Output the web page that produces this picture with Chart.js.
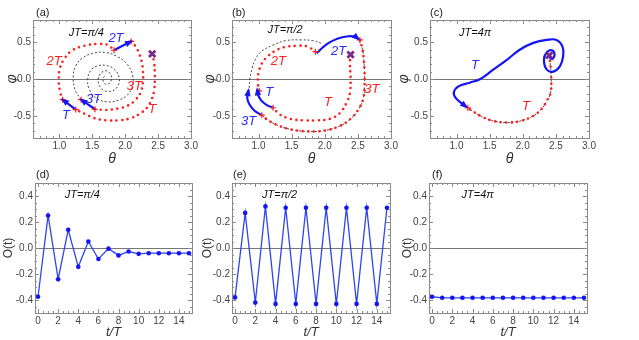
<!DOCTYPE html>
<html>
<head>
<meta charset="utf-8">
<script src="https://cdn.jsdelivr.net/npm/chart.js@4.4.0/dist/chart.umd.min.js"></script>
<style>
  body { margin: 0; background: #fff; }
  #fig { position: relative; width: 639px; height: 340px; overflow: hidden; font-family: "Liberation Sans", Arial, sans-serif; }
  #fig canvas { position: absolute; }
  .tag { position: absolute; font-size: 11px; line-height: 13px; color: #222; }
</style>
</head>
<body>
<div id="fig">
  <canvas id="pa" width="200" height="170" style="left:0;top:0"></canvas>
  <canvas id="pb" width="200" height="170" style="left:200px;top:0"></canvas>
  <canvas id="pc" width="247" height="170" style="left:392px;top:0"></canvas>
  <canvas id="pd" width="200" height="175" style="left:0;top:165px"></canvas>
  <canvas id="pe" width="200" height="175" style="left:200px;top:165px"></canvas>
  <canvas id="pf" width="239" height="175" style="left:400px;top:165px"></canvas>
  <div class="tag" style="left:36px;top:6px">(a)</div>
  <div class="tag" style="left:232px;top:6px">(b)</div>
  <div class="tag" style="left:430px;top:6px">(c)</div>
  <div class="tag" style="left:36px;top:168px">(d)</div>
  <div class="tag" style="left:233px;top:168px">(e)</div>
  <div class="tag" style="left:432px;top:168px">(f)</div>
</div>
<script>
// axis ticks
const thetaTicks = [1.0, 1.5, 2.0, 2.5, 3.0];
const phiTicks = [-0.5, 0.0, 0.5];
const tTicks = [0, 2, 4, 6, 8, 10, 12, 14];
const oTicks = [-0.4, -0.2, 0.0, 0.2, 0.4];

// stroboscopic observable O(t) at t = 0..15 T
const steps = [0, 1, 2, 3, 4, 5, 6, 7, 8, 9, 10, 11, 12, 13, 14, 15];
const oQuarter = [-0.375, 0.25, -0.24, 0.14, -0.145, 0.05, -0.085, -0.005, -0.057, -0.027, -0.045, -0.04, -0.04, -0.04, -0.04, -0.04];
const oHalf = [-0.38, 0.27, -0.42, 0.32, -0.43, 0.31, -0.43, 0.31, -0.43, 0.31, -0.43, 0.31, -0.43, 0.31, -0.43, 0.31];
const oFourPi = [-0.375, -0.383, -0.383, -0.383, -0.383, -0.383, -0.383, -0.383, -0.383, -0.383, -0.383, -0.383, -0.383, -0.383, -0.383, -0.383];

// (a) JT = pi/4, phase-space (theta, phi)
const aStart = [2.41, 0.34];
const aRed1 = [[2.41, 0.34], [2.44, 0.22], [2.45, 0.04], [2.44, -0.15], [2.40, -0.28], [2.34, -0.38], [2.24, -0.46], [2.09, -0.53], [1.91, -0.56], [1.71, -0.56], [1.53, -0.53], [1.38, -0.47], [1.25, -0.415]];
const aBlue1 = [[1.25, -0.415], [1.05, -0.28]];
const aRed2 = [[1.05, -0.28], [1.01, -0.17], [0.99, -0.01], [1.01, 0.15], [1.08, 0.28], [1.20, 0.39], [1.38, 0.45], [1.58, 0.475], [1.74, 0.46], [1.83, 0.39]];
const aBlue2 = [[1.83, 0.39], [2.09, 0.51]];
const aRed3 = [[2.09, 0.51], [2.16, 0.44], [2.21, 0.35], [2.25, 0.24], [2.27, 0.10], [2.27, -0.03], [2.24, -0.17], [2.16, -0.28], [2.04, -0.36], [1.89, -0.40], [1.71, -0.42], [1.54, -0.41]];
const aBlue3 = [[1.54, -0.41], [1.33, -0.28]];
const aBlack = [[1.33, -0.28], [1.24, -0.15], [1.21, 0.02], [1.25, 0.18], [1.36, 0.29], [1.52, 0.35], [1.70, 0.36], [1.87, 0.31], [2.02, 0.21], [2.11, 0.06], [2.11, -0.10], [2.03, -0.22], [1.89, -0.29], [1.72, -0.31], [1.56, -0.26], [1.46, -0.15], [1.43, -0.01], [1.48, 0.12], [1.59, 0.18], [1.73, 0.18], [1.85, 0.12], [1.91, 0.0], [1.87, -0.12], [1.76, -0.17], [1.64, -0.13], [1.59, -0.02], [1.63, 0.08], [1.72, 0.11], [1.79, 0.04], [1.77, -0.05], [1.70, -0.07], [1.66, 0.0], [1.70, 0.05]];
const aKicks = [[1.25, -0.415], [1.05, -0.28], [1.83, 0.39], [2.09, 0.51], [1.54, -0.41], [1.33, -0.28]];
const aNotes = [['JT=π/4', 1.41, 0.63, 'k'], ['2T', 0.92, 0.24, 'r'], ['2T', 1.86, 0.55, 'b'], ['3T', 2.14, -0.10, 'r'], ['3T', 1.52, -0.27, 'b'], ['T', 1.10, -0.50, 'b'], ['T', 2.41, -0.41, 'r']];

// (b) JT = pi/2
const bStart = [2.39, 0.33];
const bRed1 = [[2.39, 0.33], [2.38, 0.21], [2.39, 0.01], [2.38, -0.19], [2.33, -0.32], [2.23, -0.46], [2.08, -0.54], [1.88, -0.56], [1.68, -0.56], [1.48, -0.54], [1.32, -0.48], [1.22, -0.39]];
const bBlue1 = [[1.22, -0.39], [1.12, -0.35], [1.04, -0.29], [0.99, -0.21], [0.98, -0.14]];
const bRed2 = [[1.01, -0.16], [0.99, -0.05], [1.00, 0.08], [1.05, 0.21], [1.13, 0.30], [1.23, 0.37], [1.38, 0.43], [1.58, 0.45], [1.74, 0.44], [1.86, 0.37]];
const bBlue2 = [[1.88, 0.35], [1.96, 0.42], [2.06, 0.49], [2.20, 0.55], [2.36, 0.58], [2.47, 0.57], [2.51, 0.54]];
const bRed3 = [[2.53, 0.53], [2.57, 0.40], [2.59, 0.25], [2.60, 0.10], [2.60, -0.10], [2.58, -0.27], [2.51, -0.41], [2.39, -0.54], [2.22, -0.64], [1.99, -0.70], [1.73, -0.71], [1.47, -0.68], [1.27, -0.62], [1.13, -0.55], [1.05, -0.49]];
const bBlue3 = [[1.05, -0.49], [0.94, -0.43], [0.86, -0.34], [0.83, -0.25], [0.85, -0.15]];
const bBlack = [[0.86, -0.12], [0.87, 0.0], [0.90, 0.13], [0.95, 0.26], [1.04, 0.37], [1.22, 0.46], [1.41, 0.52], [1.64, 0.53], [1.82, 0.52], [1.96, 0.48]];
const bKicks = [[1.22, -0.39], [1.01, -0.16], [1.86, 0.37], [2.53, 0.53], [1.05, -0.49]];
const bNotes = [['JT=π/2', 1.40, 0.67, 'k'], ['2T', 1.30, 0.24, 'r'], ['2T', 2.21, 0.37, 'b'], ['T', 1.16, -0.18, 'b'], ['3T', 0.85, -0.57, 'b'], ['T', 2.05, -0.32, 'r'], ['3T', 2.71, -0.145, 'r']];

// (c) JT = 4 pi
const cStart = [2.40, 0.32];
const cRed1 = [[2.40, 0.32], [2.42, 0.17], [2.43, 0.0], [2.42, -0.19], [2.36, -0.30], [2.29, -0.40], [2.16, -0.50], [1.96, -0.57], [1.76, -0.59], [1.56, -0.57], [1.38, -0.51], [1.25, -0.44], [1.17, -0.39]];
const cBlue = [[2.39, 0.31], [2.44, 0.27], [2.48, 0.33], [2.44, 0.39], [2.36, 0.36], [2.32, 0.26], [2.36, 0.13], [2.46, 0.10], [2.56, 0.17], [2.61, 0.31], [2.60, 0.44], [2.51, 0.53], [2.36, 0.53], [2.16, 0.49], [1.96, 0.40], [1.76, 0.26], [1.56, 0.13], [1.36, 0.0], [1.20, -0.05], [1.03, -0.10], [0.96, -0.18], [0.99, -0.26], [1.08, -0.33], [1.15, -0.38]];
const cKicks = [[1.17, -0.39]];
const cNotes = [['JT=4π', 1.28, 0.62, 'k'], ['T', 1.28, 0.19, 'b'], ['T', 2.05, -0.37, 'r']];

const dNotes = [['JT=π/4', 4.4, 0.41, 'k']];
const eNotes = [['JT=π/2', 4.4, 0.41, 'k']];
const fNotes = [['JT=4π', 4.5, 0.41, 'k']];

const FONT = '"Liberation Sans", Arial, sans-serif';
const RED = '#ff1e1e';
const BLUE = '#1414f5';
const PURPLE = '#7a2a8a';
const NOTE_COLORS = { r: '#ff2020', b: '#2a2aff', k: '#111' };

const pts = arr => arr.map(p => ({ x: p[0], y: p[1] }));
const redDots = arr => ({ data: pts(arr), showLine: true, borderColor: RED, borderWidth: 2.6, borderDash: [0, 5.6], borderCapStyle: 'round', pointRadius: 0, tension: 0.4 });
const blackDash = arr => ({ data: pts(arr), showLine: true, borderColor: '#333', borderWidth: 0.9, borderDash: [2, 2], pointRadius: 0, tension: 0.4 });
const blueArrow = arr => ({ data: pts(arr), showLine: true, borderColor: BLUE, borderWidth: 2.2, pointRadius: 0, tension: 0.4, arrow: true });
const crosses = arr => ({ data: pts(arr), showLine: false, pointStyle: 'cross', pointRadius: 3, borderColor: RED, borderWidth: 1.2 });
const xMark = p => ({ data: pts([p]), showLine: false, pointStyle: 'crossRot', pointRadius: 4.5, borderColor: PURPLE, borderWidth: 2.8 });

// frame, inward ticks, zero line, arrowheads and text notes
const framePlugin = {
  id: 'frame',
  beforeDatasetsDraw(chart) {
    const { ctx, chartArea: a, scales: { y } } = chart;
    const y0 = Math.round(y.getPixelForValue(0)) + 0.5;
    ctx.save();
    ctx.strokeStyle = '#777';
    ctx.lineWidth = 1;
    ctx.beginPath(); ctx.moveTo(a.left, y0); ctx.lineTo(a.right, y0); ctx.stroke();
    ctx.restore();
  },
  afterDatasetsDraw(chart) {
    const ctx = chart.ctx;
    chart.data.datasets.forEach((ds, i) => {
      if (!ds.arrow) return;
      const el = chart.getDatasetMeta(i).data;
      const p = el[el.length - 1], q = el[el.length - 2];
      const ang = Math.atan2(p.y - q.y, p.x - q.x);
      ctx.save();
      ctx.translate(p.x, p.y); ctx.rotate(ang);
      ctx.fillStyle = ds.borderColor;
      ctx.beginPath(); ctx.moveTo(2, 0); ctx.lineTo(-6, -3.2); ctx.lineTo(-6, 3.2); ctx.closePath(); ctx.fill();
      ctx.restore();
    });
  },
  afterDraw(chart, args, o) {
    const { ctx, chartArea: a, scales: { x, y } } = chart;
    ctx.save();
    ctx.strokeStyle = '#8a8a8a';
    ctx.lineWidth = 1;
    ctx.strokeRect(Math.round(a.left) + 0.5, Math.round(a.top) + 0.5, Math.round(a.right - a.left), Math.round(a.bottom - a.top));
    const majX = x.ticks.map(t => t.value), majY = y.ticks.map(t => t.value);
    ctx.beginPath();
    for (let v = Math.ceil(x.min / o.xMinor) * o.xMinor; v <= x.max + 1e-9; v += o.xMinor) {
      const big = majX.some(m => Math.abs(m - v) < 1e-6);
      const px = Math.round(x.getPixelForValue(v)) + 0.5, len = big ? 4 : 2;
      ctx.moveTo(px, a.bottom); ctx.lineTo(px, a.bottom - len);
      ctx.moveTo(px, a.top); ctx.lineTo(px, a.top + len);
    }
    for (let v = Math.ceil(y.min / o.yMinor) * o.yMinor; v <= y.max + 1e-9; v += o.yMinor) {
      const big = majY.some(m => Math.abs(m - v) < 1e-6);
      const py = Math.round(y.getPixelForValue(v)) + 0.5, len = big ? 4 : 2;
      ctx.moveTo(a.left, py); ctx.lineTo(a.left + len, py);
      ctx.moveTo(a.right, py); ctx.lineTo(a.right - len, py);
    }
    ctx.stroke();
    ctx.textAlign = 'center';
    ctx.textBaseline = 'middle';
    (o.notes || []).forEach(([text, nx, ny, c]) => {
      ctx.font = (c === 'k' ? 'italic 11px ' : 'italic 13px ') + FONT;
      ctx.fillStyle = NOTE_COLORS[c];
      ctx.fillText(text, x.getPixelForValue(nx), y.getPixelForValue(ny));
    });
    ctx.restore();
  }
};

function axis(min, max, ticks, fmt, extra) {
  return Object.assign({
    type: 'linear', min, max,
    afterBuildTicks: s => { s.ticks = ticks.map(v => ({ value: v })); },
    grid: { display: false, drawTicks: false },
    border: { display: false },
    ticks: { font: { size: 10, family: FONT }, color: '#444', padding: 2, maxRotation: 0, autoSkip: false, callback: fmt }
  }, extra);
}

function phaseChart(id, yWidth, padRight, titlePad, datasets, notes) {
  return new Chart(document.getElementById(id), {
    type: 'scatter',
    data: { datasets },
    options: {
      responsive: false, animation: false, events: [],
      layout: { padding: { left: 0, top: 20, right: padRight, bottom: 0 } },
      plugins: { legend: { display: false }, tooltip: { enabled: false }, frame: { xMinor: 0.1, yMinor: 0.1, notes } },
      scales: {
        x: axis(0.6, 3.0, thetaTicks, v => v.toFixed(1), {
          afterFit: s => { s.height = 32; },
          title: { display: true, text: 'θ', color: '#333', font: { size: 14, style: 'italic', family: FONT }, padding: { top: 0, bottom: 2 } }
        }),
        y: axis(-0.8, 0.8, phiTicks, v => v.toFixed(1), {
          afterFit: s => { s.width = yWidth; },
          title: { display: true, text: 'φ', color: '#333', font: { size: 14, style: 'italic', family: FONT }, padding: { top: titlePad, bottom: 0 } }
        })
      }
    },
    plugins: [framePlugin]
  });
}

function timeChart(id, yWidth, padRight, titlePad, values, notes) {
  return new Chart(document.getElementById(id), {
    type: 'scatter',
    data: {
      datasets: [{
        data: steps.map((t, i) => ({ x: t, y: values[i] })),
        showLine: true, borderColor: '#2f45ee', borderWidth: 1.3,
        pointRadius: 2.3, pointBackgroundColor: BLUE, pointBorderColor: BLUE, pointBorderWidth: 0
      }]
    },
    options: {
      responsive: false, animation: false, events: [],
      layout: { padding: { left: 0, top: 18, right: padRight, bottom: 0 } },
      plugins: { legend: { display: false }, tooltip: { enabled: false }, frame: { xMinor: 0.5, yMinor: 0.05, notes } },
      scales: {
        x: axis(-0.3, 15.3, tTicks, v => String(v), {
          afterFit: s => { s.height = 27; },
          title: { display: true, text: 't/T', color: '#333', font: { size: 13, style: 'italic', family: FONT }, padding: { top: 0, bottom: 0 } }
        }),
        y: axis(-0.5, 0.5, oTicks, v => v.toFixed(1), {
          afterFit: s => { s.width = yWidth; },
          title: { display: true, text: 'O(t)', color: '#333', font: { size: 12, family: FONT }, padding: { top: titlePad, bottom: 0 } }
        })
      }
    },
    plugins: [framePlugin]
  });
}

phaseChart('pa', 33, 8, 4, [
  xMark(aStart), crosses(aKicks),
  blueArrow(aBlue1), blueArrow(aBlue2), blueArrow(aBlue3),
  redDots(aRed1), redDots(aRed2), redDots(aRed3),
  blackDash(aBlack)
], aNotes);

phaseChart('pb', 32, 9, 2, [
  xMark(bStart), crosses(bKicks),
  blueArrow(bBlue1), blueArrow(bBlue2), blueArrow(bBlue3),
  redDots(bRed1), redDots(bRed2), redDots(bRed3),
  blackDash(bBlack), blackDash(bRed3)
], bNotes);

phaseChart('pc', 38, 50, 4, [
  xMark(cStart), crosses(cKicks),
  blueArrow(cBlue),
  redDots(cRed1), blackDash(cRed1)
], cNotes);

timeChart('pd', 35, 8, 1, oQuarter, dNotes);
timeChart('pe', 32, 10, 0, oHalf, eNotes);
timeChart('pf', 29, 52, 0, oFourPi, fNotes);
</script>
</body>
</html>
